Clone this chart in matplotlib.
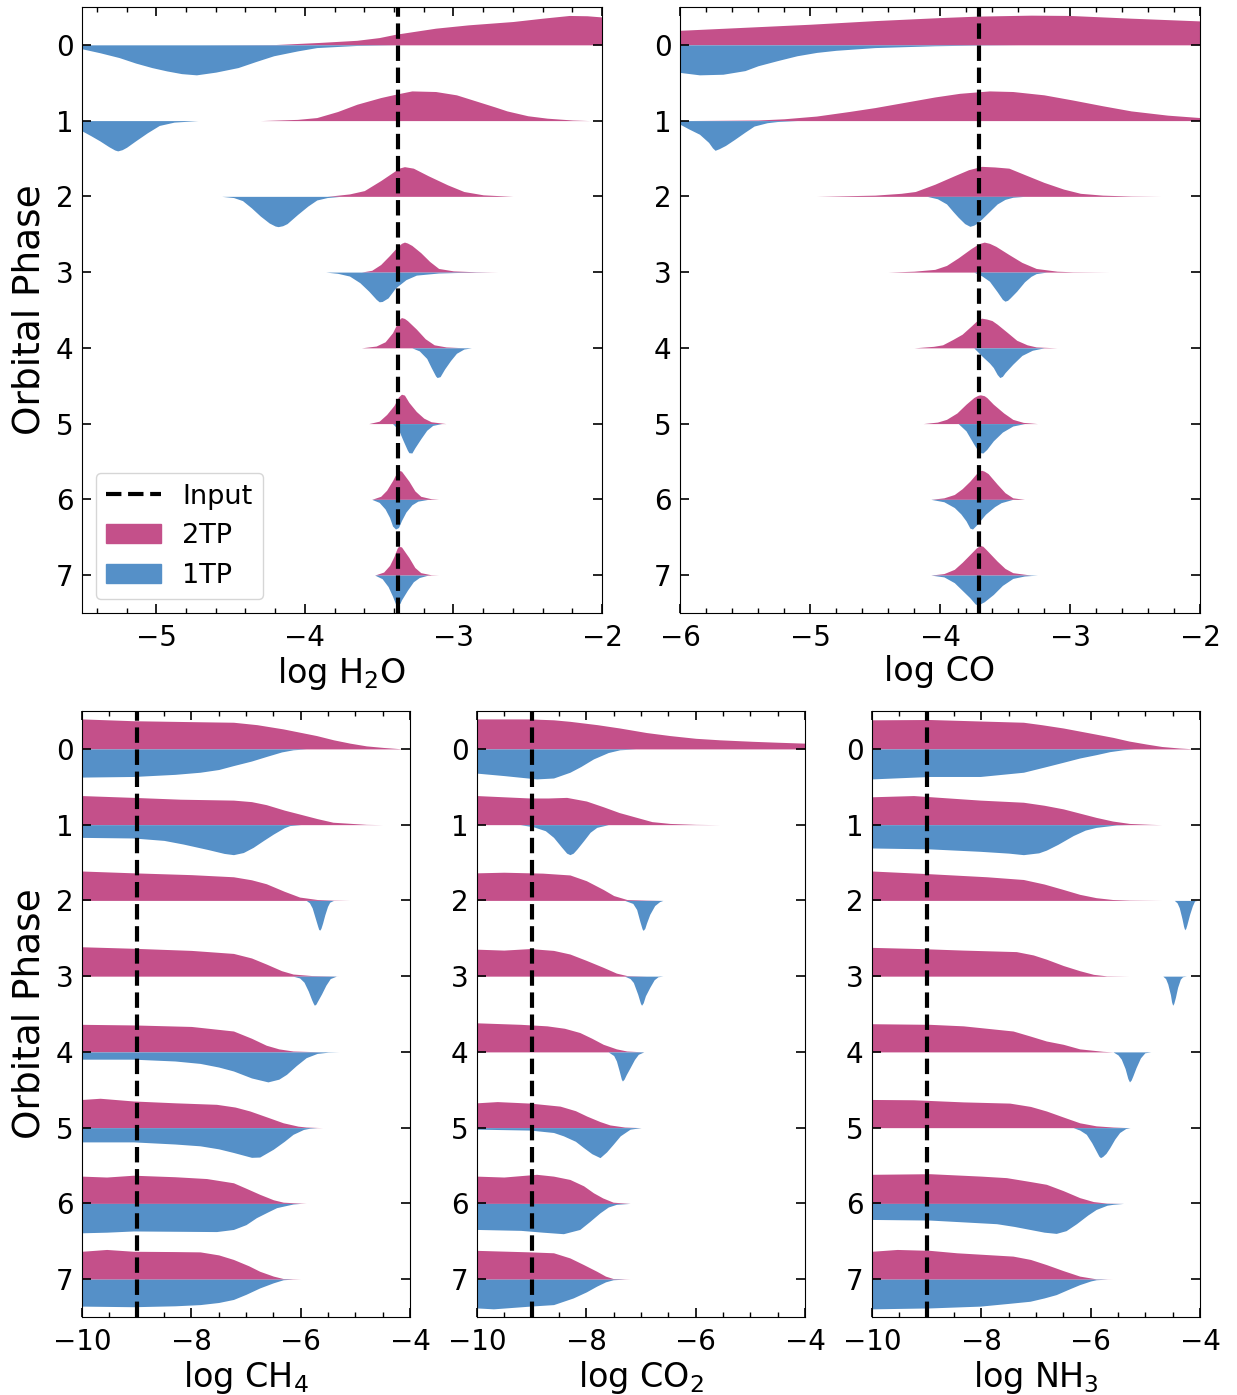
import matplotlib
matplotlib.use('Agg')
import matplotlib.pyplot as plt
from matplotlib.lines import Line2D
from matplotlib.patches import Patch
from matplotlib.ticker import AutoMinorLocator

# colours of the two retrieval set-ups
C_2TP = '#c4508a'
C_1TP = '#5590c8'
HALF = 0.4  # half width of one violin side

phases = list(range(8))

# input (true) abundances
h2o_input = -3.37
co_input = -3.70
ch4_input = -9.0
co2_input = -9.0
nh3_input = -9.0

# posterior shapes: per phase a list of (log X, relative density)
h2o_2tp = [
    [(-4.7, 0), (-4.2, .01), (-3.9, .08), (-3.65, .15), (-3.5, .24), (-3.39, .35), (-3.12, .55), (-2.9, .66), (-2.6, .77), (-2.4, .88), (-2.22, .97), (-2.1, .96), (-2.0, .92)],
    [(-4.3, 0), (-4.05, .04), (-3.92, .1), (-3.78, .3), (-3.65, .54), (-3.49, .76), (-3.39, .87), (-3.28, .98), (-3.12, .96), (-2.98, .85), (-2.85, .65), (-2.72, .45), (-2.64, .32), (-2.5, .16), (-2.37, .08), (-2.2, .02), (-2.08, 0)],
    [(-3.85, 0), (-3.7, .08), (-3.6, .19), (-3.49, .52), (-3.39, .85), (-3.36, .94), (-3.33, .98), (-3.27, .93), (-3.17, .68), (-3.04, .38), (-2.93, .16), (-2.8, .05), (-2.6, 0)],
    [(-3.62, 0), (-3.55, .06), (-3.49, .25), (-3.43, .55), (-3.38, .82), (-3.35, .95), (-3.33, .99), (-3.31, .96), (-3.28, .88), (-3.22, .64), (-3.16, .35), (-3.1, .12), (-3.0, .04), (-2.85, .01), (-2.7, 0)],
    [(-3.62, 0), (-3.52, .06), (-3.46, .2), (-3.41, .5), (-3.38, .8), (-3.36, .96), (-3.35, 1.0), (-3.33, .97), (-3.31, .9), (-3.25, .62), (-3.19, .3), (-3.13, .1), (-3.05, .03), (-2.92, 0)],
    [(-3.57, 0), (-3.5, .08), (-3.45, .3), (-3.4, .6), (-3.37, .88), (-3.35, .97), (-3.33, .94), (-3.3, .7), (-3.25, .4), (-3.2, .18), (-3.15, .06), (-3.05, 0)],
    [(-3.55, 0), (-3.49, .1), (-3.45, .3), (-3.41, .62), (-3.38, .9), (-3.37, .96), (-3.35, .93), (-3.3, .6), (-3.26, .28), (-3.22, .1), (-3.15, .02), (-3.1, 0)],
    [(-3.53, 0), (-3.47, .1), (-3.43, .32), (-3.4, .62), (-3.38, .88), (-3.37, .95), (-3.35, .93), (-3.3, .58), (-3.26, .25), (-3.22, .08), (-3.15, .01), (-3.1, 0)],
]
h2o_1tp = [
    [(-5.5, .13), (-5.38, .26), (-5.25, .42), (-5.14, .6), (-5.03, .75), (-4.93, .86), (-4.83, .95), (-4.73, .99), (-4.6, .9), (-4.45, .75), (-4.33, .55), (-4.21, .36), (-4.05, .2), (-3.92, .09), (-3.65, .02), (-3.39, 0)],
    [(-5.5, .34), (-5.44, .5), (-5.38, .67), (-5.32, .86), (-5.28, .97), (-5.26, 1.0), (-5.23, .96), (-5.2, .88), (-5.14, .67), (-5.06, .4), (-4.98, .16), (-4.88, .05), (-4.72, 0)],
    [(-4.56, 0), (-4.48, .04), (-4.42, .14), (-4.36, .38), (-4.3, .65), (-4.24, .88), (-4.2, .98), (-4.18, 1.0), (-4.15, .97), (-4.12, .9), (-4.05, .6), (-3.98, .32), (-3.92, .12), (-3.85, .04), (-3.76, 0)],
    [(-3.86, 0), (-3.78, .04), (-3.7, .13), (-3.63, .35), (-3.57, .63), (-3.52, .9), (-3.5, .98), (-3.48, .97), (-3.44, .85), (-3.39, .52), (-3.32, .25), (-3.25, .1), (-3.1, .03), (-2.95, .01), (-2.75, 0)],
    [(-3.28, 0), (-3.23, .1), (-3.18, .35), (-3.15, .65), (-3.12, .93), (-3.11, .98), (-3.09, .95), (-3.06, .7), (-3.02, .42), (-2.98, .18), (-2.93, .04), (-2.88, 0)],
    [(-3.41, 0), (-3.37, .2), (-3.34, .55), (-3.31, .88), (-3.3, .96), (-3.28, .97), (-3.26, .8), (-3.22, .5), (-3.18, .22), (-3.14, .06), (-3.08, 0)],
    [(-3.55, 0), (-3.5, .1), (-3.46, .32), (-3.43, .6), (-3.41, .88), (-3.39, .98), (-3.37, .93), (-3.35, .7), (-3.32, .42), (-3.28, .18), (-3.24, .06), (-3.17, 0)],
    [(-3.53, 0), (-3.48, .12), (-3.44, .38), (-3.41, .7), (-3.39, .95), (-3.38, 1.0), (-3.36, .93), (-3.35, .82), (-3.31, .5), (-3.27, .22), (-3.23, .08), (-3.17, 0)],
]

co_2tp = [
    [(-6, .48), (-5.5, .58), (-5, .68), (-4.5, .8), (-4, .9), (-3.7, .95), (-3.3, .98), (-3.0, .97), (-2.53, .88), (-2.0, .79)],
    [(-6, 0), (-5.4, .02), (-5.2, .06), (-4.95, .15), (-4.7, .3), (-4.5, .43), (-4.25, .62), (-4.04, .78), (-3.85, .9), (-3.62, .98), (-3.44, .96), (-3.2, .85), (-2.98, .68), (-2.75, .49), (-2.53, .32), (-2.25, .18), (-2.0, .1)],
    [(-4.95, 0), (-4.5, .04), (-4.3, .1), (-4.19, .16), (-4.04, .4), (-3.89, .68), (-3.78, .88), (-3.68, .99), (-3.58, .97), (-3.47, .93), (-3.35, .72), (-3.2, .46), (-3.05, .24), (-2.92, .1), (-2.75, .04), (-2.53, .01), (-2.3, 0)],
    [(-4.4, 0), (-4.2, .03), (-4.04, .09), (-3.95, .22), (-3.86, .47), (-3.76, .78), (-3.7, .94), (-3.66, .99), (-3.62, .95), (-3.57, .85), (-3.47, .58), (-3.37, .32), (-3.26, .12), (-3.1, .03), (-2.98, .01), (-2.7, 0)],
    [(-4.2, 0), (-4.05, .05), (-3.98, .1), (-3.9, .28), (-3.83, .45), (-3.76, .72), (-3.71, .92), (-3.68, .98), (-3.64, .95), (-3.6, .9), (-3.56, .78), (-3.48, .5), (-3.41, .25), (-3.33, .1), (-3.26, .03), (-3.1, 0)],
    [(-4.13, 0), (-4.02, .05), (-3.95, .14), (-3.87, .35), (-3.8, .64), (-3.74, .86), (-3.71, .93), (-3.69, .95), (-3.66, .92), (-3.64, .86), (-3.59, .64), (-3.51, .35), (-3.44, .14), (-3.36, .04), (-3.25, 0)],
    [(-4.07, 0), (-3.97, .05), (-3.89, .16), (-3.83, .35), (-3.77, .6), (-3.72, .85), (-3.7, .93), (-3.68, .96), (-3.66, .93), (-3.63, .85), (-3.56, .5), (-3.5, .22), (-3.44, .05), (-3.35, 0)],
    [(-4.07, 0), (-3.97, .05), (-3.89, .19), (-3.83, .42), (-3.77, .68), (-3.72, .9), (-3.69, .98), (-3.67, .95), (-3.64, .82), (-3.56, .46), (-3.5, .22), (-3.44, .08), (-3.3, 0)],
]
co_1tp = [
    [(-6, .91), (-5.85, .99), (-5.67, .97), (-5.5, .85), (-5.4, .69), (-5.25, .52), (-5.1, .36), (-4.95, .25), (-4.8, .18), (-4.5, .09), (-4.04, .03), (-3.74, .01), (-3.4, 0)],
    [(-6, .12), (-5.93, .28), (-5.85, .45), (-5.78, .72), (-5.75, .9), (-5.73, .98), (-5.7, .93), (-5.65, .82), (-5.58, .62), (-5.5, .38), (-5.43, .18), (-5.33, .07), (-5.25, .03), (-5.1, 0)],
    [(-4.1, 0), (-4.02, .08), (-3.95, .25), (-3.9, .5), (-3.86, .69), (-3.81, .9), (-3.77, .99), (-3.74, .95), (-3.72, .9), (-3.68, .75), (-3.62, .5), (-3.56, .25), (-3.5, .1), (-3.44, .03), (-3.35, 0)],
    [(-3.74, 0), (-3.68, .12), (-3.62, .3), (-3.56, .65), (-3.52, .9), (-3.5, .96), (-3.48, .93), (-3.46, .85), (-3.41, .63), (-3.35, .32), (-3.3, .14), (-3.26, .05), (-3.18, 0)],
    [(-3.74, 0), (-3.68, .26), (-3.62, .5), (-3.59, .65), (-3.56, .88), (-3.54, .98), (-3.52, .94), (-3.5, .82), (-3.44, .54), (-3.37, .25), (-3.29, .08), (-3.2, 0)],
    [(-3.86, 0), (-3.8, .24), (-3.74, .68), (-3.71, .88), (-3.69, .96), (-3.67, .97), (-3.64, .85), (-3.59, .57), (-3.52, .28), (-3.44, .08), (-3.35, 0)],
    [(-4.07, 0), (-3.97, .08), (-3.89, .27), (-3.84, .48), (-3.8, .71), (-3.77, .95), (-3.75, .98), (-3.72, .85), (-3.65, .49), (-3.58, .24), (-3.53, .11), (-3.44, 0)],
    [(-4.07, 0), (-3.97, .06), (-3.89, .25), (-3.83, .5), (-3.77, .75), (-3.73, .95), (-3.71, .99), (-3.66, .88), (-3.59, .64), (-3.52, .34), (-3.44, .11), (-3.35, .03), (-3.25, 0)],
]

ch4_2tp = [
    [(-10, .99), (-9.06, .93), (-8.0, .9), (-7.23, .88), (-6.8, .8), (-6.32, .66), (-5.71, .44), (-5.4, .3), (-5.1, .19), (-4.8, .1), (-4.5, .05), (-4.13, 0)],
    [(-10, .96), (-9.06, .9), (-8.2, .84), (-7.23, .81), (-6.9, .76), (-6.63, .66), (-6.3, .48), (-6.02, .35), (-5.7, .2), (-5.41, .08), (-4.8, .01), (-4.5, 0)],
    [(-10, .97), (-9.06, .91), (-8.0, .85), (-7.23, .78), (-6.9, .68), (-6.63, .55), (-6.3, .3), (-6.02, .11), (-5.7, .03), (-5.41, .01), (-5.1, 0)],
    [(-10, .97), (-9.06, .92), (-8.0, .85), (-7.23, .75), (-6.9, .6), (-6.63, .4), (-6.35, .18), (-6.14, .07), (-5.8, .02), (-5.3, 0)],
    [(-10, .91), (-9.06, .89), (-8.0, .84), (-7.23, .69), (-6.9, .45), (-6.63, .22), (-6.4, .1), (-6.14, .03), (-5.6, 0)],
    [(-10, .93), (-9.67, .97), (-9.06, .88), (-8.3, .82), (-7.54, .77), (-7.2, .68), (-6.93, .55), (-6.6, .34), (-6.32, .16), (-6.05, .05), (-5.9, .02), (-5.6, 0)],
    [(-10, .9), (-9.55, .87), (-9.06, .93), (-8.3, .88), (-7.72, .82), (-7.23, .68), (-7.0, .5), (-6.75, .3), (-6.5, .12), (-6.32, .04), (-5.9, 0)],
    [(-10, .92), (-9.55, .98), (-9.06, .92), (-8.3, .91), (-7.84, .9), (-7.5, .8), (-7.23, .65), (-6.95, .44), (-6.75, .26), (-6.5, .1), (-6.32, .02), (-6.0, 0)],
]
ch4_1tp = [
    [(-10, .93), (-9.06, .91), (-8.3, .84), (-7.84, .77), (-7.5, .68), (-7.23, .55), (-6.9, .4), (-6.63, .25), (-6.35, .1), (-6.14, .03), (-5.9, 0)],
    [(-10, .42), (-9.06, .44), (-8.5, .52), (-8.15, .64), (-7.7, .82), (-7.4, .95), (-7.23, .99), (-7.05, .92), (-6.87, .75), (-6.68, .52), (-6.5, .31), (-6.3, .1), (-6.2, .03), (-6.0, 0)],
    [(-5.9, 0), (-5.84, .08), (-5.79, .25), (-5.74, .55), (-5.69, .85), (-5.67, .96), (-5.65, .98), (-5.63, .92), (-5.6, .75), (-5.56, .48), (-5.51, .2), (-5.47, .06), (-5.4, 0)],
    [(-6.14, 0), (-6.02, .06), (-5.94, .2), (-5.86, .5), (-5.8, .78), (-5.77, .9), (-5.75, .96), (-5.72, .92), (-5.7, .85), (-5.62, .59), (-5.54, .3), (-5.46, .08), (-5.35, 0)],
    [(-10, .24), (-9.06, .24), (-8.3, .3), (-7.84, .38), (-7.5, .5), (-7.23, .63), (-6.9, .86), (-6.6, .99), (-6.4, .9), (-6.26, .74), (-6.08, .45), (-5.9, .19), (-5.7, .05), (-5.5, .01), (-5.3, 0)],
    [(-10, .47), (-9.06, .47), (-8.3, .54), (-7.84, .6), (-7.5, .7), (-7.23, .82), (-6.9, .98), (-6.75, .97), (-6.5, .71), (-6.3, .45), (-6.14, .22), (-5.95, .06), (-5.84, .02), (-5.7, 0)],
    [(-10, .97), (-9.55, .95), (-9.06, .91), (-8.3, .92), (-7.54, .93), (-7.23, .86), (-7.0, .7), (-6.81, .47), (-6.6, .28), (-6.44, .14), (-6.14, .02), (-6.0, 0)],
    [(-10, .89), (-9.06, .91), (-8.3, .88), (-7.84, .84), (-7.5, .77), (-7.23, .67), (-7.0, .5), (-6.75, .29), (-6.5, .12), (-6.32, .02), (-6.15, 0)],
]

co2_2tp = [
    [(-10, .99), (-9.03, .99), (-8.6, .96), (-8.3, .91), (-7.8, .8), (-7.39, .69), (-6.9, .54), (-6.47, .44), (-6.0, .35), (-5.56, .3), (-4.95, .25), (-4.5, .22), (-4.0, .19)],
    [(-10, .96), (-9.03, .88), (-8.7, .88), (-8.36, .9), (-8.0, .78), (-7.69, .59), (-7.4, .4), (-7.08, .24), (-6.8, .1), (-6.47, .04), (-6.0, .01), (-5.56, 0)],
    [(-10, .91), (-9.51, .93), (-8.8, .9), (-8.3, .84), (-8.0, .65), (-7.69, .36), (-7.5, .16), (-7.26, .03), (-6.9, .01), (-6.6, 0)],
    [(-10, .89), (-9.51, .86), (-9.03, .91), (-8.6, .85), (-8.3, .73), (-8.0, .52), (-7.69, .29), (-7.45, .1), (-7.26, .02), (-6.9, 0)],
    [(-10, .96), (-9.2, .91), (-8.72, .86), (-8.4, .78), (-8.12, .64), (-7.9, .45), (-7.69, .25), (-7.45, .1), (-7.26, .03), (-6.95, 0)],
    [(-10, .82), (-9.63, .86), (-9.03, .81), (-8.48, .71), (-8.2, .56), (-7.99, .38), (-7.75, .2), (-7.57, .09), (-7.3, .02), (-7.0, 0)],
    [(-10, .9), (-9.51, .87), (-8.91, .96), (-8.6, .9), (-8.3, .79), (-8.05, .58), (-7.87, .35), (-7.7, .18), (-7.51, .04), (-7.2, 0)],
    [(-10, .95), (-9.03, .9), (-8.6, .87), (-8.3, .7), (-8.05, .48), (-7.81, .26), (-7.65, .1), (-7.51, .02), (-7.2, 0)],
]
co2_1tp = [
    [(-10, .8), (-9.51, .88), (-8.91, .99), (-8.6, .96), (-8.3, .77), (-8.1, .58), (-7.87, .33), (-7.6, .12), (-7.39, .03), (-7.1, 0)],
    [(-9.21, 0), (-8.97, .07), (-8.75, .2), (-8.6, .42), (-8.45, .75), (-8.36, .94), (-8.3, .99), (-8.24, .94), (-8.17, .8), (-8.05, .53), (-7.93, .25), (-7.81, .09), (-7.6, 0)],
    [(-7.3, 0), (-7.15, .1), (-7.08, .3), (-7.02, .7), (-6.98, .94), (-6.96, .99), (-6.93, .92), (-6.9, .75), (-6.84, .46), (-6.75, .17), (-6.66, .04), (-6.6, 0)],
    [(-7.3, 0), (-7.2, .08), (-7.14, .21), (-7.06, .6), (-7.01, .9), (-6.99, .96), (-6.96, .88), (-6.92, .65), (-6.84, .37), (-6.76, .12), (-6.69, .02), (-6.6, 0)],
    [(-7.6, 0), (-7.5, .12), (-7.45, .3), (-7.4, .62), (-7.36, .9), (-7.34, .96), (-7.31, .9), (-7.27, .75), (-7.2, .52), (-7.12, .25), (-7.05, .08), (-6.95, 0)],
    [(-10, .05), (-9.03, .08), (-8.6, .16), (-8.42, .27), (-8.2, .45), (-8.05, .66), (-7.9, .86), (-7.75, .99), (-7.63, .8), (-7.51, .55), (-7.38, .27), (-7.2, .05), (-7.0, 0)],
    [(-10, .86), (-9.2, .89), (-8.8, .95), (-8.42, 1.0), (-8.12, .86), (-7.94, .6), (-7.75, .31), (-7.6, .12), (-7.45, .03), (-7.2, 0)],
    [(-10, .95), (-9.7, .98), (-9.03, .89), (-8.6, .84), (-8.24, .62), (-8.0, .42), (-7.81, .23), (-7.65, .09), (-7.51, .02), (-7.3, 0)],
]

nh3_2tp = [
    [(-10, .96), (-8.94, .97), (-8.0, .92), (-7.23, .88), (-6.9, .8), (-6.5, .69), (-6.0, .52), (-5.59, .38), (-5.3, .26), (-4.98, .16), (-4.7, .08), (-4.38, .03), (-4.1, 0)],
    [(-10, .92), (-9.24, .96), (-8.02, .81), (-7.23, .74), (-6.85, .64), (-6.5, .52), (-6.2, .38), (-5.9, .24), (-5.6, .12), (-5.29, .04), (-4.9, .01), (-4.7, 0)],
    [(-10, .97), (-8.94, .88), (-7.9, .78), (-7.23, .69), (-6.85, .54), (-6.5, .36), (-6.2, .2), (-5.9, .09), (-5.6, .03), (-5.29, .01), (-4.7, 0)],
    [(-10, .95), (-9.12, .91), (-8.33, .86), (-7.36, .81), (-7.05, .7), (-6.81, .56), (-6.5, .35), (-6.2, .18), (-5.95, .06), (-5.71, .01), (-5.3, 0)],
    [(-10, .93), (-8.94, .91), (-8.33, .86), (-7.42, .69), (-7.1, .52), (-6.81, .36), (-6.5, .25), (-6.2, .1), (-5.78, .02), (-5.59, 0)],
    [(-10, .93), (-9.24, .92), (-8.33, .85), (-7.48, .81), (-7.1, .7), (-6.81, .55), (-6.5, .35), (-6.2, .16), (-5.9, .06), (-5.59, .02), (-5.3, 0)],
    [(-10, .96), (-8.94, .98), (-8.0, .9), (-7.54, .85), (-7.1, .72), (-6.81, .63), (-6.5, .42), (-6.2, .19), (-5.95, .06), (-5.71, .01), (-5.4, 0)],
    [(-10, .92), (-9.54, .98), (-8.94, .95), (-8.45, .87), (-7.42, .76), (-7.1, .65), (-6.81, .48), (-6.5, .28), (-6.2, .1), (-5.9, .01), (-5.6, 0)],
]
nh3_1tp = [
    [(-10, .99), (-8.94, .91), (-8.02, .91), (-7.23, .77), (-6.85, .6), (-6.5, .44), (-6.2, .3), (-5.9, .19), (-5.65, .09), (-5.41, .03), (-5.2, 0)],
    [(-10, .77), (-8.94, .8), (-8.02, .88), (-7.5, .94), (-7.23, .99), (-6.95, .93), (-6.81, .84), (-6.6, .65), (-6.32, .36), (-6.1, .18), (-5.9, .09), (-5.53, .01), (-5.3, 0)],
    [(-4.47, 0), (-4.42, .08), (-4.38, .24), (-4.33, .6), (-4.3, .86), (-4.28, .97), (-4.26, .92), (-4.24, .8), (-4.19, .46), (-4.14, .18), (-4.1, .02), (-4.05, 0)],
    [(-4.68, 0), (-4.63, .08), (-4.59, .26), (-4.54, .62), (-4.52, .85), (-4.5, .96), (-4.48, .9), (-4.45, .7), (-4.41, .37), (-4.36, .1), (-4.32, .02), (-4.25, 0)],
    [(-5.59, 0), (-5.5, .1), (-5.44, .24), (-5.37, .55), (-5.32, .88), (-5.29, .99), (-5.26, .93), (-5.23, .8), (-5.17, .52), (-5.09, .2), (-5.01, .03), (-4.9, 0)],
    [(-6.32, 0), (-6.2, .08), (-6.08, .22), (-5.98, .5), (-5.9, .77), (-5.85, .94), (-5.82, .99), (-5.78, .95), (-5.72, .85), (-5.65, .66), (-5.56, .38), (-5.47, .16), (-5.36, .03), (-5.28, 0)],
    [(-10, .53), (-8.94, .55), (-7.72, .67), (-7.4, .76), (-7.11, .86), (-6.85, .95), (-6.63, .99), (-6.45, .9), (-6.26, .67), (-6.05, .38), (-5.9, .2), (-5.7, .06), (-5.59, .03), (-5.4, 0)],
    [(-10, .98), (-8.94, .95), (-8.02, .89), (-7.5, .8), (-7.11, .73), (-6.85, .62), (-6.63, .51), (-6.4, .33), (-6.2, .18), (-6.0, .06), (-5.9, .02), (-5.7, 0)],
]


def draw_panel(ax, two_tp, one_tp, truth, xlim, xticks, xlabel, ylabel=False):
    for phase, up, down in zip(phases, two_tp, one_tp):
        x, h = zip(*up)
        ax.fill_between(x, phase, [phase - HALF * v for v in h],
                        color=C_2TP, lw=0)
        x, h = zip(*down)
        ax.fill_between(x, phase, [phase + HALF * v for v in h],
                        color=C_1TP, lw=0)
    ax.axvline(truth, color='k', ls='--', lw=3, zorder=5)

    ax.set_xlim(*xlim)
    ax.set_ylim(7.5, -0.5)
    ax.set_xticks(xticks)
    ax.set_yticks(phases)
    ax.xaxis.set_minor_locator(AutoMinorLocator())
    ax.tick_params(axis='both', which='both', direction='in',
                   top=True, right=True, labelsize=20)
    ax.tick_params(which='major', length=6.5, width=1.2)
    ax.tick_params(which='minor', length=3.5, width=1.0)
    ax.tick_params(axis='x', which='major', pad=8)
    ax.tick_params(axis='y', which='major', pad=6)
    ax.tick_params(axis='y', which='minor', left=False, right=False)
    ax.set_xlabel(xlabel, fontsize=24, labelpad=2)
    if ylabel:
        ax.set_ylabel('Orbital Phase', fontsize=27, labelpad=6)


fig = plt.figure(figsize=(12.37, 13.95), dpi=100)

top_b, row_h = 0.5606, 0.4344
bot_b = 0.0559
ax1 = fig.add_axes([0.0663, top_b, 0.4204, row_h])
ax2 = fig.add_axes([0.5497, top_b, 0.4204, row_h])
ax3 = fig.add_axes([0.0663, bot_b, 0.2652, row_h])
ax4 = fig.add_axes([0.3856, bot_b, 0.2652, row_h])
ax5 = fig.add_axes([0.7049, bot_b, 0.2652, row_h])

draw_panel(ax1, h2o_2tp, h2o_1tp, h2o_input, (-5.5, -2), [-5, -4, -3, -2],
           r'log H$_2$O', ylabel=True)
draw_panel(ax2, co_2tp, co_1tp, co_input, (-6, -2), [-6, -5, -4, -3, -2],
           'log CO')
draw_panel(ax3, ch4_2tp, ch4_1tp, ch4_input, (-10, -4), [-10, -8, -6, -4],
           r'log CH$_4$', ylabel=True)
draw_panel(ax4, co2_2tp, co2_1tp, co2_input, (-10, -4), [-10, -8, -6, -4],
           r'log CO$_2$')
draw_panel(ax5, nh3_2tp, nh3_1tp, nh3_input, (-10, -4), [-10, -8, -6, -4],
           r'log NH$_3$')

handles = [Line2D([], [], color='k', ls='--', lw=3),
           Patch(color=C_2TP), Patch(color=C_1TP)]
ax1.legend(handles, ['Input', '2TP', '1TP'], loc='lower left', fontsize=19.5)

fig.savefig('out.png', dpi=100)
